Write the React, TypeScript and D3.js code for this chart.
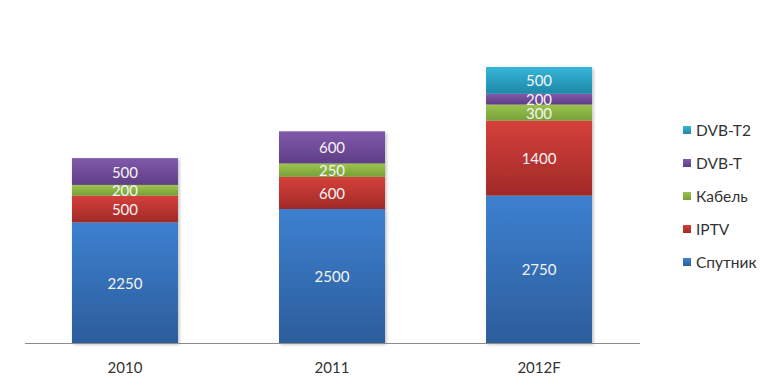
import * as d3 from "d3";

const categories = ["2010", "2011", "2012F"];
const seriesNames = ["Спутник", "IPTV", "Кабель", "DVB-T", "DVB-T2"];
const satellite = [2250, 2500, 2750];
const iptv = [500, 600, 1400];
const cable = [200, 250, 300];
const dvbt = [500, 600, 200];
const dvbt2 = [0, 0, 500];

const colors = [
    ["#3d80d0", "#2c5d9b"],
    ["#d6403b", "#a02a28"],
    ["#9dc44c", "#77a03a"],
    ["#8159ab", "#5e3e86"],
    ["#36b6d8", "#1f88a8"],
];

const W = 768;
const H = 390;
const baseY = 343;

export default function App() {
    const values = [satellite, iptv, cable, dvbt, dvbt2];
    const rows = categories.map((c, i) => {
        const r: Record<string, number | string> = { cat: c };
        seriesNames.forEach((s, k) => (r[s] = values[k][i]));
        return r;
    });
    const stacked = d3.stack<any>().keys(seriesNames)(rows);
    const total = d3.max(stacked[stacked.length - 1], (d) => d[1]) ?? 0;

    const x = d3
        .scaleBand()
        .domain(categories)
        .range([20, 644])
        .paddingInner(0.488)
        .paddingOuter(0.251);
    const y = d3.scaleLinear().domain([0, total]).range([baseY, 67]);

    const font = "Lato, 'Open Sans', sans-serif";

    return (
        <svg
            width={W}
            height={H}
            style={{ position: "absolute", left: 0, top: 0, background: "#fff" }}
            fontFamily={font}
        >
            <defs>
                {colors.map(([a, b], k) => (
                    <linearGradient key={k} id={`g${k}`} x1="0" y1="0" x2="0" y2="1">
                        <stop offset="0%" stopColor={a} />
                        <stop offset="100%" stopColor={b} />
                    </linearGradient>
                ))}
                <filter id="sh" x="-10%" y="-10%" width="130%" height="130%">
                    <feDropShadow dx="1.5" dy="1.5" stdDeviation="1.5" floodColor="#000" floodOpacity="0.25" />
                </filter>
            </defs>

            {categories.map((c, i) => (
                <g key={c} filter="url(#sh)">
                    {stacked.map((s, k) => {
                        const d = s[i];
                        if (d[1] - d[0] <= 0) return null;
                        return (
                            <rect
                                key={k}
                                x={x(c)}
                                width={x.bandwidth()}
                                y={y(d[1])}
                                height={y(d[0]) - y(d[1])}
                                fill={`url(#g${k})`}
                            />
                        );
                    })}
                </g>
            ))}

            {categories.map((c, i) =>
                stacked.map((s, k) => {
                    const d = s[i];
                    const v = d[1] - d[0];
                    if (v <= 0) return null;
                    return (
                        <text
                            key={`${c}-${k}`}
                            x={(x(c) ?? 0) + x.bandwidth() / 2}
                            y={(y(d[0]) + y(d[1])) / 2}
                            textAnchor="middle"
                            dominantBaseline="central"
                            fontSize={15}
                            fill="#f4f4f4"
                        >
                            {v}
                        </text>
                    );
                })
            )}

            <line x1={25} x2={640} y1={baseY + 0.5} y2={baseY + 0.5} stroke="#8c8c8c" strokeWidth={1} />

            {categories.map((c) => (
                <text
                    key={c}
                    x={(x(c) ?? 0) + x.bandwidth() / 2}
                    y={367}
                    textAnchor="middle"
                    dominantBaseline="central"
                    fontSize={15}
                    fill="#333"
                >
                    {c}
                </text>
            ))}

            {seriesNames
                .map((s, k) => ({ s, k }))
                .reverse()
                .map(({ s, k }, j) => {
                    const ly = 130 + j * 33;
                    return (
                        <g key={s}>
                            <rect x={683} y={ly - 4} width={8} height={8} fill={`url(#g${k})`} />
                            <text x={696} y={ly} dominantBaseline="central" fontSize={15.5} fill="#333">
                                {s}
                            </text>
                        </g>
                    );
                })}
        </svg>
    );
}
